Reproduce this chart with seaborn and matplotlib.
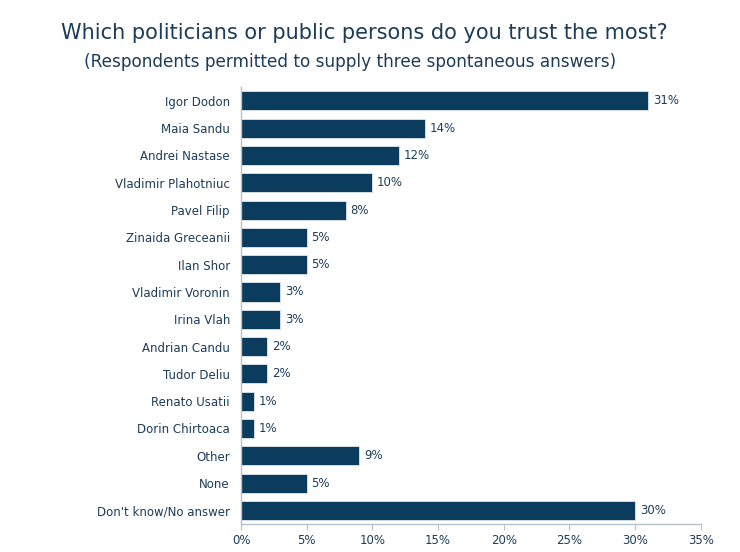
import matplotlib
matplotlib.use("Agg")
import matplotlib.pyplot as plt
import seaborn as sns
import pandas as pd

# data
names = ["Igor Dodon", "Maia Sandu", "Andrei Nastase", "Vladimir Plahotniuc",
         "Pavel Filip", "Zinaida Greceanii", "Ilan Shor", "Vladimir Voronin",
         "Irina Vlah", "Andrian Candu", "Tudor Deliu", "Renato Usatii",
         "Dorin Chirtoaca", "Other", "None", "Don't know/No answer"]
pct = [31, 14, 12, 10, 8, 5, 5, 3, 3, 2, 2, 1, 1, 9, 5, 30]
xticks = [0, 5, 10, 15, 20, 25, 30, 35]

df = pd.DataFrame({"name": names, "pct": pct})

sns.set_style("white")
plt.rcParams['font.family'] = ['DejaVu Sans']
navy = "#0b3c5d"
txt = "#1d3c5a"

fig = plt.figure(figsize=(7.4, 5.52), dpi=100)
ax = fig.add_axes([0.3257, 0.0507, 0.6213, 0.7913])

sns.barplot(data=df, x="pct", y="name", color=navy, saturation=1,
            width=0.7, edgecolor="#dfe6ec", linewidth=0.6, ax=ax)

for i, v in enumerate(pct):
    ax.text(v + 0.35, i, f"{v}%", va="center", ha="left", fontsize=8.5, color=txt)

ax.set_xlim(0, 35)
ax.set_ylim(15.5, -0.5)
ax.set_xticks(xticks)
ax.set_xticklabels([f"{t}%" for t in xticks], fontsize=8.5, color=txt)
ax.tick_params(axis="y", labelsize=8.5, labelcolor=txt, length=0, pad=8)
ax.tick_params(axis="x", length=4, color="#b8c0c8", bottom=True, pad=3)
ax.set_xlabel("")
ax.set_ylabel("")
for s in ["top", "right"]:
    ax.spines[s].set_visible(False)
for s in ["left", "bottom"]:
    ax.spines[s].set_color("#b8c0c8")
    ax.spines[s].set_linewidth(1)

fig.text(0.493, 0.94, "Which politicians or public persons do you trust the most?",
         ha="center", va="center", fontsize=15, color=txt)
fig.text(0.473, 0.888, "(Respondents permitted to supply three spontaneous answers)",
         ha="center", va="center", fontsize=12.2, color=txt)

fig.savefig("out.png", dpi=100)
